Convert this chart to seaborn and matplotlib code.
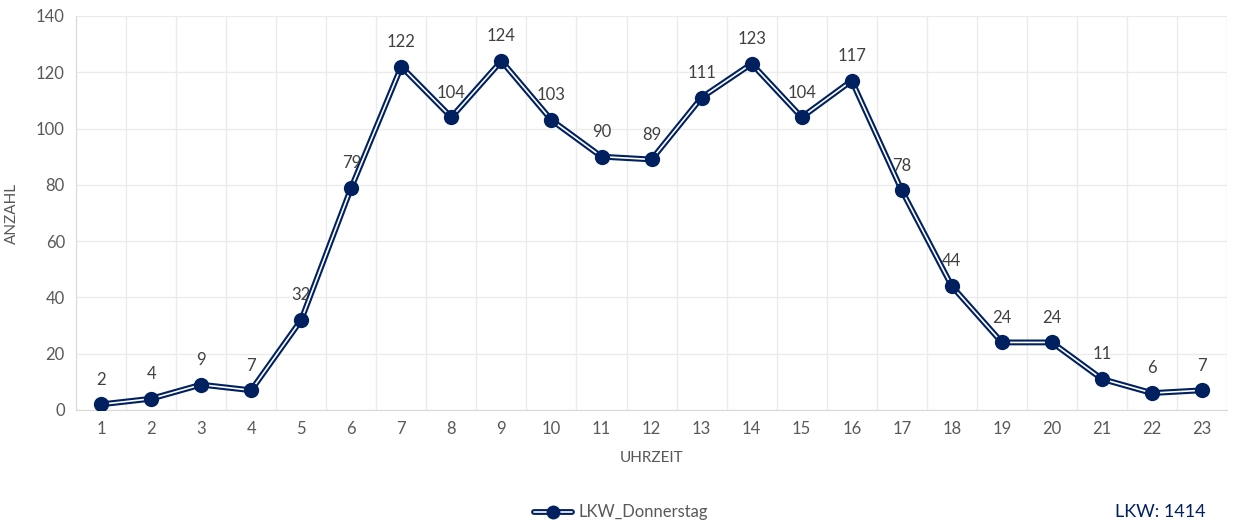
import pandas as pd
import numpy as np
import matplotlib.pyplot as plt
import seaborn as sns
from matplotlib.lines import Line2D
from matplotlib.legend_handler import HandlerTuple

sns.set_style("white")
plt.rcParams['font.family'] = ['Lato', 'DejaVu Sans']

# Data
hours = list(range(1, 24))
trucks = [2, 4, 9, 7, 32, 79, 122, 104, 124, 103, 90, 89, 111, 123, 104, 117, 78, 44, 24, 24, 11, 6, 7]
series_name = 'LKW_Donnerstag'
total_label = 'LKW: 1414'

navy = '#002060'
grey = '#595959'

df = pd.DataFrame({'hour': hours, 'count': trucks})

fig = plt.figure(figsize=(12.42, 5.24), dpi=100)
ax = fig.add_axes([0.0612, 0.2176, 0.9268, 0.752])

# double line: thick navy + thin white core
sns.lineplot(data=df, x='hour', y='count', ax=ax, color=navy, linewidth=4.2, zorder=3)
sns.lineplot(data=df, x='hour', y='count', ax=ax, color='white', linewidth=1.2, zorder=4)
ax.plot(df['hour'], df['count'], 'o', color=navy, markersize=11, markeredgewidth=0, zorder=5)

for h, v in zip(hours, trucks):
    ax.annotate(str(v), (h, v), xytext=(0, 12), textcoords='offset points',
                ha='center', va='bottom', fontsize=12, color='#404040')

ax.set_xlim(0.5, 23.5)
ax.set_ylim(0, 140)
ax.set_yticks(np.arange(0, 141, 20))
ax.set_xticks(hours)
ax.set_xticks(np.arange(0.5, 23.6, 1), minor=True)
ax.grid(False)
ax.grid(True, which='minor', axis='x', color='#ebebeb', linewidth=1)
ax.grid(True, which='major', axis='y', color='#ebebeb', linewidth=1)
ax.tick_params(axis='both', which='both', length=0, labelsize=12, colors=grey, pad=8)
for s in ['top', 'right']:
    ax.spines[s].set_visible(False)
ax.spines['left'].set_color('#d9d9d9')
ax.spines['bottom'].set_color('#d9d9d9')

ax.set_xlabel('UHRZEIT', fontsize=11, color=grey, labelpad=10)
ax.set_ylabel('ANZAHL', fontsize=11, color=grey, labelpad=12)

# legend with double-line handle
h1 = Line2D([], [], color=navy, linewidth=4.2)
h2 = Line2D([], [], color='white', linewidth=1.2)
h3 = Line2D([], [], linestyle='none', marker='o', markersize=10,
            markerfacecolor=navy, markeredgewidth=0)
leg = fig.legend([(h1, h2, h3)], [series_name], handler_map={tuple: HandlerTuple(ndivide=1)},
                 loc='center', bbox_to_anchor=(0.5, 0.022), frameon=False,
                 fontsize=12, handlelength=2.3, handletextpad=0.4)
for t in leg.get_texts():
    t.set_color(grey)

fig.text(0.934, 0.022, total_label, ha='center', va='center', fontsize=13, color=navy)

fig.savefig('out.png', dpi=100)
